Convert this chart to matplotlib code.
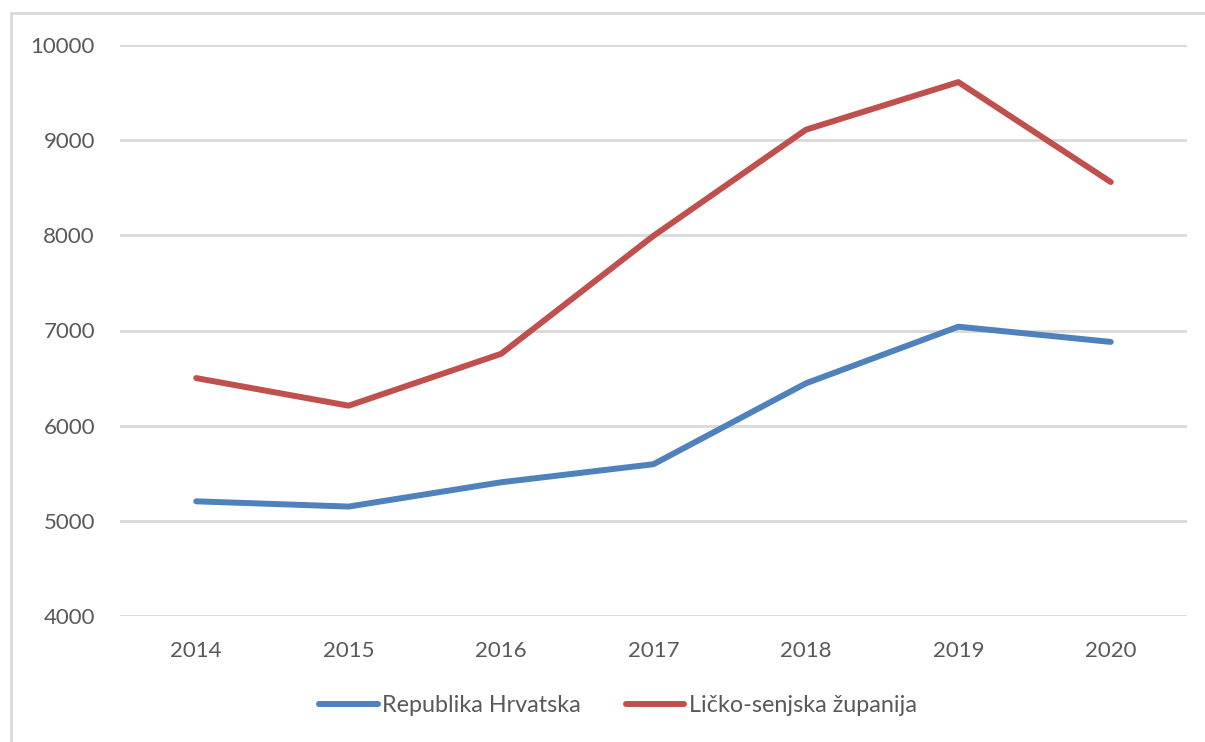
import matplotlib.pyplot as plt
from matplotlib.patches import Rectangle

years = ['2014', '2015', '2016', '2017', '2018', '2019', '2020']
hrvatska = [5205, 5150, 5405, 5595, 6445, 7040, 6880]
licko_senjska = [6500, 6210, 6755, 7995, 9110, 9610, 8560]
yticks = [4000, 5000, 6000, 7000, 8000, 9000, 10000]

plt.rcParams['font.family'] = ['Lato', 'DejaVu Sans']

fig = plt.figure(figsize=(12.05, 7.42), dpi=100)
ax = fig.add_axes([120 / 1205, 1 - 616 / 742, (1187 - 120) / 1205, (616 - 45) / 742])

# outer chart border (only top and left show in the screenshot)
fig.patches.append(Rectangle((11 / 1205, -0.2), 2, 1.2 - 13 / 742, transform=fig.transFigure,
                             fill=False, edgecolor='#d9d9d9', linewidth=2))

x = range(len(years))
ax.plot(x, hrvatska, color='#4f81bd', linewidth=4.3, solid_capstyle='round',
        solid_joinstyle='round', label='Republika Hrvatska')
ax.plot(x, licko_senjska, color='#c0504d', linewidth=4.3, solid_capstyle='round',
        solid_joinstyle='round', label='Ličko-senjska županija')

ax.set_xlim(-0.5, len(years) - 0.5)
ax.set_ylim(4000, 10000)
ax.set_xticks(list(x))
ax.set_xticklabels(years)
ax.set_yticks(yticks)
ax.grid(axis='y', color='#d9d9d9', linewidth=2)
ax.set_axisbelow(True)
for s in ax.spines.values():
    s.set_visible(False)
ax.tick_params(length=0, labelsize=16, labelcolor='#595959')
ax.tick_params(axis='y', pad=18)
ax.tick_params(axis='x', pad=18)

fig.legend(loc='center', bbox_to_anchor=(618 / 1205, 1 - 706 / 742), ncol=2, frameon=False,
           fontsize=16.8, labelcolor='#595959', handlelength=2.5, handletextpad=0.2,
           columnspacing=1.9)

fig.savefig('out.png', dpi=100)
